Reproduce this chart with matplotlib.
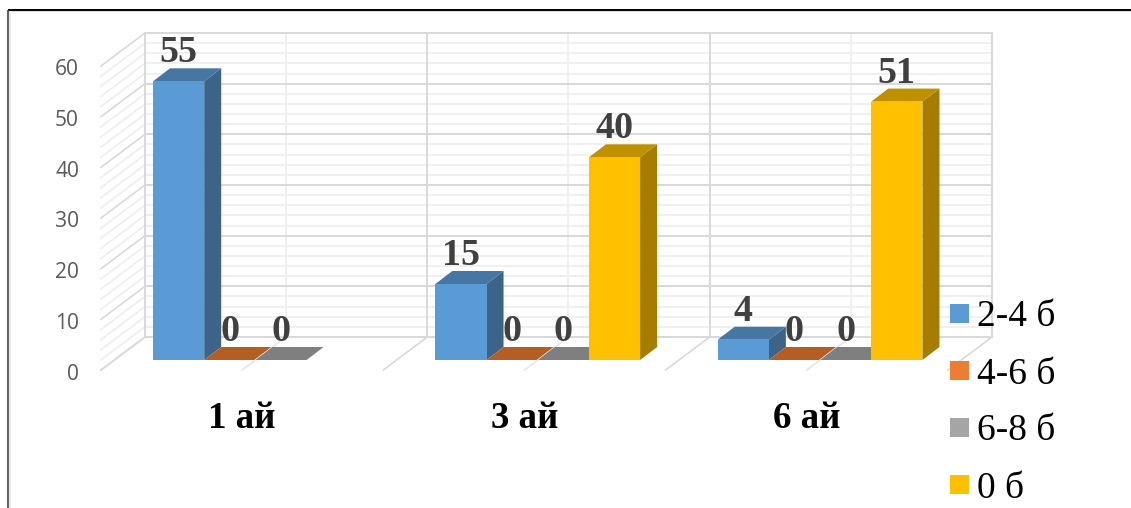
import matplotlib
matplotlib.use("Agg")
import matplotlib.pyplot as plt
from matplotlib.patches import Polygon, Patch
from matplotlib.lines import Line2D

categories = ["1 ай", "3 ай", "6 ай"]
series_names = ["2-4 б", "4-6 б", "6-8 б", "0 б"]
values_2_4 = [55, 15, 4]
values_4_6 = [0, 0, 0]
values_6_8 = [0, 0, 0]
values_0 = [None, 40, 51]
yticks = [0, 10, 20, 30, 40, 50, 60]

front_colors = ["#5B9BD5", "#ED7D31", "#A5A5A5", "#FFC000"]
side_colors = ["#3C6489", "#9E5525", "#6E6E6E", "#A67D00"]
top_colors = ["#4676A2", "#B55E24", "#7F7F7F", "#BF9000"]

W, H = 1131, 508
PX_PER_CAT = 282.33
PX_PER_VAL = 5.067
X0, Y0 = 145.0, 337.0

def dx(px):
    return px / PX_PER_CAT

def dy(px):
    return px / PX_PER_VAL

fig = plt.figure(figsize=(W / 100, H / 100), dpi=100, facecolor="white")
ax = fig.add_axes([0, 0, 1, 1])
ax.set_xlim(-X0 / PX_PER_CAT, (W - X0) / PX_PER_CAT)
ax.set_ylim((Y0 - H) / PX_PER_VAL, Y0 / PX_PER_VAL)
ax.axis("off")

MAJOR, MINOR = "#D9D9D9", "#F0F0F0"
LW = 1.4
wall_dx, wall_dy = dx(44), dy(33)
n = len(categories)

# minor gridlines
for v in range(0, 61, 2):
    if v % 10 == 0:
        continue
    ax.plot([0, n], [v, v], color=MINOR, lw=LW, zorder=1)
    ax.plot([-wall_dx, 0], [v - wall_dy, v], color=MINOR, lw=LW, zorder=1)
for i in range(n):
    ax.plot([i + 0.5, i + 0.5], [0, 60], color=MINOR, lw=LW, zorder=1)
    ax.plot([i + 0.5 - wall_dx, i + 0.5], [-wall_dy, 0], color="#E4E4E4", lw=1.1, zorder=1)
# major gridlines
for v in yticks:
    ax.plot([0, n], [v, v], color=MAJOR, lw=LW, zorder=2)
    ax.plot([-wall_dx, 0], [v - wall_dy, v], color=MAJOR, lw=1.2, zorder=2)
for i in range(n + 1):
    ax.plot([i, i], [0, 60], color=MAJOR, lw=LW, zorder=2)
    ax.plot([i - wall_dx, i], [-wall_dy, 0], color=MAJOR, lw=1.2, zorder=2)

# y tick labels
for v in yticks:
    ax.text(dx(79 - X0), v - dy(42.5), str(v), ha="right", va="baseline",
            family="Open Sans", fontsize=15.1, color="#595959", zorder=5)

# bars
all_series = [values_2_4, values_4_6, values_6_8, values_0]
base = -dy(23)
bar_w = dx(51.2)
start = dx(8)
ddx, ddy = dx(17), dy(13)
z = 10
for c in range(n):
    for s, vals in enumerate(all_series):
        v = vals[c]
        if v is None:
            continue
        x = c + start + s * bar_w
        top = base + v
        if v > 0:
            ax.bar(x, v, width=bar_w, bottom=base, align="edge",
                   color=front_colors[s], linewidth=0, zorder=z + 2)
            ax.add_patch(Polygon([(x + bar_w, base), (x + bar_w + ddx, base + ddy),
                                  (x + bar_w + ddx, top + ddy), (x + bar_w, top)],
                                 closed=True, fc=side_colors[s], ec="none", zorder=z + 1))
        ax.add_patch(Polygon([(x, top), (x + bar_w, top),
                              (x + bar_w + ddx, top + ddy), (x + ddx, top + ddy)],
                             closed=True, fc=top_colors[s], ec="none", zorder=z + 1))
        if s == 1:
            ax.plot([x + bar_w, x + bar_w + ddx], [top, top + ddy],
                    color="#F2F2F2", lw=1.0, zorder=z + 3)
        ax.text(x + bar_w / 2, top + dy(19), str(v), ha="center", va="baseline",
                family="Liberation Serif", fontweight="bold", fontsize=27.4,
                color="#404040", zorder=50)
        z += 4

# category labels
for i, name in enumerate(categories):
    ax.text(i + 0.5 - wall_dx, -dy(91), name, ha="center", va="baseline",
            family="Liberation Serif", fontweight="bold", fontsize=26.6,
            color="black", zorder=50)

# legend
handles = [Patch(facecolor=col, edgecolor="none", label=lab)
           for col, lab in zip(front_colors, series_names)]
leg = ax.legend(handles=handles, loc="upper left",
                bbox_to_anchor=(950 / W, 1 - 300 / H), bbox_transform=fig.transFigure,
                frameon=False, borderpad=0, borderaxespad=0,
                prop={"family": "Liberation Serif", "size": 27.0},
                handlelength=0.5, handleheight=0.4, handletextpad=0.22,
                labelspacing=0.6)
leg.set_zorder(60)

# page border with soft shadow
def px_line(x1, y1, x2, y2, color, lw):
    fig.add_artist(Line2D([x1 / W, x2 / W], [1 - y1 / H, 1 - y2 / H],
                          color=color, lw=lw, solid_capstyle="butt"))

px_line(8, 11.3, W, 11.3, "#D9D9D9", 1.2)
px_line(10, 11, 10, H, "#E6E6E6", 1.2)
px_line(7.5, 9.7, W, 9.7, "#000000", 1.4)
px_line(8.3, 9.5, 8.3, H, "#444444", 1.2)

fig.savefig("out.png", dpi=100)
